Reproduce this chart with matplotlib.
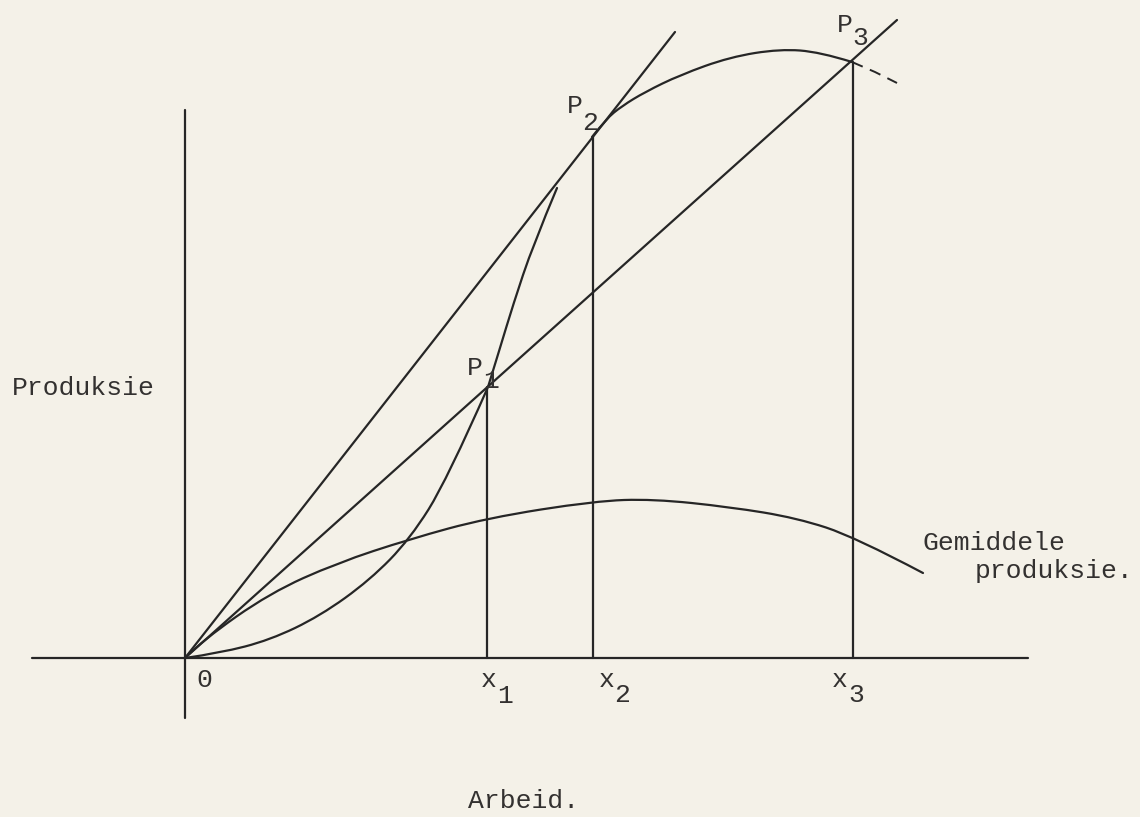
import numpy as np
import matplotlib
matplotlib.use("Agg")
import matplotlib.pyplot as plt
from matplotlib.path import Path
from matplotlib.patches import PathPatch

# arbitrary units (labour L, output Q), origin at O
tp_a_L = [0, 35, 85, 135, 185, 225, 262, 303]
tp_a_Q = [0, 5, 18, 42, 78, 119, 178, 271]

tp_b_L = [303, 315, 328, 348, 372]
tp_b_Q = [271, 310, 353, 413, 470]

tp_up_L = [407, 421, 437, 460, 495, 545, 595, 635, 667]
tp_up_Q = [521, 539, 552, 566, 583, 601, 609, 606, 596]

tp_tail_L = [667, 690, 712]
tp_tail_Q = [596, 586, 575]

ap_L = [0, 18, 85, 152, 225, 302, 410, 468, 545, 612, 670, 738]
ap_Q = [0, 18, 65, 95, 119, 140, 157, 159, 151, 140, 121, 85]

tangent_end = (490, 626)
ray_end = (712, 638)

p_L = [302, 408, 668]
p_Q = [271, 521, 596]
p_names = ["1", "2", "3"]

paper = "#f4f1e8"
ink = "#262626"
txt = "#333130"
font = "Liberation Mono"
fs = 19


def curve(ax, xs, ys, **style):
    # quadratic bezier path: inner points act as control points
    pts = list(zip(xs, ys))
    verts = [pts[0]]
    codes = [Path.MOVETO]
    for i in range(1, len(pts) - 2):
        mid = ((pts[i][0] + pts[i + 1][0]) / 2, (pts[i][1] + pts[i + 1][1]) / 2)
        verts += [pts[i], mid]
        codes += [Path.CURVE3, Path.CURVE3]
    if len(pts) > 2:
        verts += [pts[-2], pts[-1]]
        codes += [Path.CURVE3, Path.CURVE3]
    else:
        verts += [pts[-1]]
        codes += [Path.LINETO]
    ax.add_patch(PathPatch(Path(verts, codes), fill=False, **style))


fig = plt.figure(figsize=(11.4, 8.17), dpi=100, facecolor=paper)
ax = fig.add_axes([0, 0, 1, 1])
ax.set_facecolor(paper)
ax.set_xlim(-185, 955)
ax.set_ylim(-159, 658)
ax.axis("off")

kw = dict(color=ink, lw=1.6, solid_capstyle="round")
ckw = dict(edgecolor=ink, lw=1.6, capstyle="round")

# axes
ax.plot([-153, 843], [0, 0], **kw)
ax.plot([0, 0], [-60, 548], **kw)

# total product curve
curve(ax, tp_a_L, tp_a_Q, **ckw)
curve(ax, tp_b_L, tp_b_Q, **ckw)
curve(ax, tp_up_L, tp_up_Q, **ckw)
ax.plot(tp_tail_L, tp_tail_Q, color=ink, lw=1.4, ls=(0, (6, 4)))

# average product
curve(ax, ap_L, ap_Q, **ckw)

# rays from origin
ax.plot([0, tangent_end[0]], [0, tangent_end[1]], **kw)
ax.plot([0, ray_end[0]], [0, ray_end[1]], **kw)

# verticals
for l, q in zip(p_L, p_Q):
    ax.plot([l, l], [0, q], **kw)

t = dict(color=txt, fontsize=fs, family=font, ha="left", va="baseline")
ax.text(-173, 263, "Produksie", **t)
ax.text(283, -150, "Arbeid.", **t)
ax.text(738, 108, "Gemiddele", **t)
ax.text(790, 80, "produksie.", **t)
ax.text(11, -29, "0", **t)

# x labels with lowered digits
x_lbl = [(296, -29, 312, -45), (414, -29, 429, -44), (647, -29, 663, -44)]
for (xl, xb, dl, db), n in zip(x_lbl, p_names):
    ax.text(xl, xb, "x", **t)
    ax.text(dl, db, n, **t)

# P labels
p_lbl = [(282, 283, 298, 270), (382, 545, 397, 528), (652, 626, 667, 613)]
for (xl, xb, dl, db), n in zip(p_lbl, p_names):
    ax.text(xl, xb, "P", **t)
    ax.text(dl, db, n, **t)

fig.savefig("out.png", dpi=100, facecolor=paper)
